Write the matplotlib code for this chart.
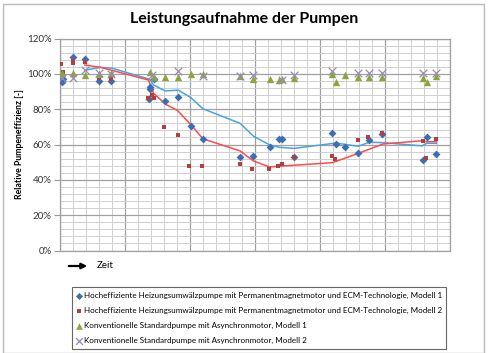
import numpy as np
import matplotlib
matplotlib.use("Agg")
from matplotlib import pyplot as plt
from matplotlib.patches import Rectangle

plt.rcParams['font.family'] = ['Lato', 'DejaVu Sans']

# x = Zeit (willkürliche Einheiten), y = relative Pumpeneffizienz in %
hoch1_x = [0.15, 0.25, 1.0, 1.95, 3.0, 3.9, 6.85, 6.9, 6.95, 7.2, 8.1, 9.1, 10.05, 11.0,
           13.85, 14.85, 16.15, 16.85, 17.05, 18.0, 20.95, 21.2, 21.9, 22.95, 23.75, 24.8,
           27.9, 28.2, 28.9]
hoch1_y = [95.5, 97, 109.3, 108.2, 96, 96, 85.7, 92.7, 91.2, 96.9, 84.8, 87.1, 70.5, 62.9,
           52.7, 53.5, 58.8, 62.9, 62.9, 53.1, 66.7, 60.3, 58.8, 55, 62.5, 66,
           51.2, 64.1, 54.6]

hoch2_x = [0.1, 0.25, 1.0, 1.0, 1.9, 3.0, 3.9, 6.8, 7.05, 7.2, 8.0, 9.05, 9.95, 10.95,
           13.85, 14.8, 16.1, 16.75, 17.05, 18.0, 20.9, 21.15, 22.9, 23.7, 24.8,
           27.9, 28.15, 28.9]
hoch2_y = [105.4, 101.2, 106, 107.4, 106.9, 97.5, 97, 86.1, 88, 86.1, 70, 65.4, 47.8, 47.8,
           49, 46.1, 46.3, 47.6, 49.2, 53.1, 53.5, 51.6, 62.5, 64.4, 66.7,
           62, 52.3, 63.3]

konv1_x = [0.15, 1.0, 1.95, 3.0, 3.9, 6.9, 7.2, 8.1, 9.1, 10.05, 11.0, 13.85, 14.85, 16.15,
           16.85, 17.1, 18.0, 20.95, 21.2, 21.9, 22.95, 23.8, 24.8, 27.9, 28.2, 28.9]
konv1_y = [100.6, 100.3, 99.3, 99.9, 100.6, 101.2, 98.4, 98, 98.4, 99.7, 99.7, 98.8, 96.9, 96.9,
           96.5, 96.9, 97.8, 99.9, 95.5, 99.3, 98, 98.4, 98.4, 97.5, 95.5, 98.8]

konv2_x = [0.15, 1.0, 1.95, 3.0, 3.9, 7.05, 9.1, 11.0, 13.85, 14.85, 17.05, 18.0, 20.95,
           22.95, 23.8, 24.8, 27.9, 28.9]
konv2_y = [97.8, 97.5, 102.2, 100.6, 100, 99.3, 101.8, 98.8, 99, 99.3, 96.5, 99.3, 101.8,
           100.6, 100.6, 100.6, 100.6, 100.3]

trend1_x = [1.9, 3.1, 4.0, 6.9, 7.2, 8.1, 9.1, 10.05, 11.0, 13.85, 14.9, 16.15, 16.9, 18.0,
            21.2, 22.95, 23.8, 24.95, 27.85, 28.2, 28.95]
trend1_y = [102, 103.7, 103.2, 96.9, 93.7, 90.3, 90.8, 86.6, 80.2, 72, 64.6, 59.7, 58.4, 57.8,
            60.8, 59, 61.3, 61, 59.2, 60.7, 60.7]

trend2_x = [1.9, 3.1, 6.8, 7.2, 8.1, 9.05, 10.05, 11.0, 13.85, 14.85, 16.1, 17.05, 20.95,
            22.95, 24.85, 27.85, 28.2, 28.95]
trend2_y = [105, 103.7, 96.5, 89, 82.9, 79.2, 71.3, 63.2, 56.4, 50.8, 47.3, 47.8, 49.7,
            55, 60.3, 62.1, 61.6, 61.6]

labels = ['Hocheffiziente Heizungsumwälzpumpe mit Permanentmagnetmotor und ECM-Technologie, Modell 1',
          'Hocheffiziente Heizungsumwälzpumpe mit Permanentmagnetmotor und ECM-Technologie, Modell 2',
          'Konventionelle Standardpumpe mit Asynchronmotor, Modell 1',
          'Konventionelle Standardpumpe mit Asynchronmotor, Modell 2']

W, H = 490, 353
fig = plt.figure(figsize=(W / 100, H / 100), dpi=100)
ax = fig.add_axes([60 / W, 1 - 250.5 / H, 390 / W, 212 / H])

ax.plot(trend1_x, trend1_y, color='#4aa3df', lw=1.1, zorder=3)
ax.plot(trend2_x, trend2_y, color='#ff4b4b', lw=1.1, zorder=3)
h1 = ax.scatter(hoch1_x, hoch1_y, marker='D', s=16, color='#3c6eb4', zorder=4, linewidths=0)
h2 = ax.scatter(hoch2_x, hoch2_y, marker='s', s=10, color='#b0403d', zorder=4, linewidths=0)
k1 = ax.scatter(konv1_x, konv1_y, marker='^', s=28, color='#8aa53c', zorder=5, linewidths=0)
k2 = ax.scatter(konv2_x, konv2_y, marker='x', s=30, color='#9a8ab4', zorder=5, linewidths=0.9)

ax.set_xlim(0, 30)
ax.set_ylim(0, 120)
ax.set_xticks(np.arange(0, 31, 5))
ax.set_xticks(np.arange(0, 31, 1), minor=True)
ax.set_yticks(np.arange(0, 121, 20))
ax.set_yticks(np.arange(0, 121, 4), minor=True)
ax.set_yticklabels([f'{v}%' for v in range(0, 121, 20)])
ax.set_xticklabels([])
ax.tick_params(axis='x', which='both', length=0)
ax.tick_params(axis='y', which='major', length=4, color='#999999', labelsize=7,
               labelcolor='#333333', pad=2)
ax.tick_params(axis='y', which='minor', length=0)
ax.grid(True, which='major', color='#a0a0a0', lw=0.9)
ax.grid(True, which='minor', color='#cfcfcf', lw=0.7)
ax.set_axisbelow(True)
for s in ax.spines.values():
    s.set_color('#a0a0a0')
    s.set_linewidth(0.9)

ax.set_ylabel('Relative Pumpeneffizienz [-]', fontsize=6.3, fontweight='bold', labelpad=2)

fig.text(244 / W, 1 - 19 / H, 'Leistungsaufnahme der Pumpen', ha='center', va='center',
         fontsize=11.5, fontweight='bold')

# Zeit-Pfeil
ax.annotate('', xy=(90 / W, 1 - 266 / H), xytext=(66 / W, 1 - 266 / H),
            xycoords='figure fraction', textcoords='figure fraction',
            arrowprops=dict(arrowstyle='-|>', color='black', lw=1.6, mutation_scale=8))
fig.text(97 / W, 1 - 265 / H, 'Zeit', ha='left', va='center', fontsize=7)

leg = fig.legend([h1, h2, k1, k2], labels, loc='upper left',
                 bbox_to_anchor=(68 / W, 1 - 283 / H, 382 / W, 0), mode='expand',
                 fontsize=5.8, frameon=True, fancybox=False, edgecolor='#404040',
                 handlelength=0.6, handletextpad=0.3, labelspacing=1.0,
                 borderpad=0.6, markerscale=0.9)
leg.get_frame().set_linewidth(0.8)

fig.patches.append(Rectangle((3 / W, 0), 481 / W, 1 - 4 / H, transform=fig.transFigure,
                             fill=False, edgecolor='#bbbbbb', lw=1.0))

fig.savefig('out.png', dpi=100)
